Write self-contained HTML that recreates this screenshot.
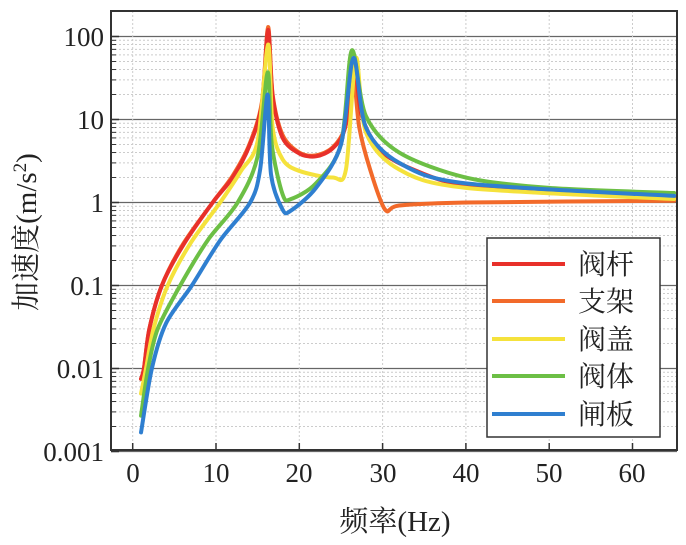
<!DOCTYPE html><html><head><meta charset="utf-8"><style>body{margin:0;background:#fff}svg{display:block}text{font-family:"Liberation Serif","Noto Serif CJK SC",serif;fill:#222}</style></head><body>
<svg id="s" width="686" height="545" xmlns="http://www.w3.org/2000/svg">
<g id="grid"></g>
<g id="curves" fill="none" stroke-width="4" stroke-linejoin="round" stroke-linecap="round"></g>
<rect x="111" y="11" width="566" height="439" fill="none" stroke="#333" stroke-width="2"/>
<g id="ticks"></g>
<g font-size="27" text-anchor="end">
<text x="104" y="46">100</text><text x="104" y="129">10</text><text x="104" y="212">1</text><text x="104" y="295">0.1</text><text x="104" y="378">0.01</text><text x="104" y="461">0.001</text></g>
<g font-size="27" text-anchor="middle">
<text x="133" y="482">0</text><text x="216" y="482">10</text><text x="299" y="482">20</text><text x="383" y="482">30</text><text x="466" y="482">40</text><text x="549" y="482">50</text><text x="632" y="482">60</text></g>
<text x="395" y="531" font-size="29" text-anchor="middle">频率(Hz)</text>
<text transform="translate(36,232) rotate(-90)" font-size="29" text-anchor="middle">加速度(m/s<tspan font-size="19" dy="-10">2</tspan><tspan dy="10">)</tspan></text>
<rect x="487" y="238" width="173" height="199" fill="#fff" stroke="#333" stroke-width="1.5"/>
<g stroke-width="4">
<line x1="492" y1="264" x2="565" y2="264" stroke="#e8302a"/>
<line x1="492" y1="301" x2="565" y2="301" stroke="#f26a2a"/>
<line x1="492" y1="339" x2="565" y2="339" stroke="#f5e23c"/>
<line x1="492" y1="376" x2="565" y2="376" stroke="#6cbf45"/>
<line x1="492" y1="414" x2="565" y2="414" stroke="#2f7fd0"/></g>
<g font-size="28"><text x="578" y="274">阀杆</text><text x="578" y="311">支架</text><text x="578" y="349">阀盖</text><text x="578" y="386">阀体</text><text x="578" y="424">闸板</text></g>
</svg>
<script>
const X=f=>132.7+8.33*f, Y=v=>202.5-83*Math.log10(v);
const g=document.getElementById('grid'),t=document.getElementById('ticks');
let h='',k='';
for(let d=-3;d<=2;d++){for(let m=1;m<10;m++){const v=m*Math.pow(10,d);const y=Y(v);if(y<11)continue;
if(m==1){h+=`<line x1="111" x2="677" y1="${y}" y2="${y}" stroke="#666" stroke-width="1.2"/>`;k+=`<line x1="111" x2="119" y1="${y}" y2="${y}" stroke="#333" stroke-width="1.5"/>`;}
else{h+=`<line x1="111" x2="677" y1="${y}" y2="${y}" stroke="#ccc" stroke-dasharray="2,2"/>`;k+=`<line x1="111" x2="116" y1="${y}" y2="${y}" stroke="#333"/>`;}}}
for(let f=0;f<=60;f+=10){const x=X(f);h+=`<line x1="${x}" x2="${x}" y1="11" y2="450" stroke="#ccc" stroke-dasharray="2,2"/>`;k+=`<line x1="${x}" x2="${x}" y1="450" y2="443" stroke="#333" stroke-width="1.5"/>`;}
g.innerHTML=h;t.innerHTML=k;
const S={
"#f26a2a":[[1,0.0075],[1.35,0.01],[2,0.03],[3.5,0.1],[6,0.31],[9.6,1],[12,2.1],[14,5],[15.5,16],[16.25,130],[16.8,20],[18,6.5],[20,4],[22,3.7],[24,4.6],[25.5,8],[26.5,30],[27.2,8],[28.5,2.5],[30.3,0.82],[32,0.92],[40,1.0],[65,1.05]],
"#e8302a":[[1,0.0075],[1.35,0.01],[2,0.03],[3.5,0.1],[6,0.3],[9.6,1],[12,2],[14,4.8],[15.5,15],[16.25,120],[16.8,19],[18,6],[20,3.9],[22,3.6],[24,4.5],[25.5,8],[26.6,48],[27.5,11],[30,4],[35,2.2],[40,1.6],[50,1.3],[65,1.15]],
"#f5e23c":[[1,0.005],[1.6,0.01],[2.5,0.03],[4.2,0.1],[7,0.33],[10.5,1],[13,2.4],[15,5.5],[16.25,80],[16.8,8],[18,3.3],[20,2.4],[24,2.0],[25.6,2.5],[26.8,55],[28,7],[32,2.5],[40,1.5],[65,1.1]],
"#6cbf45":[[1,0.0027],[1.85,0.01],[3,0.03],[5.7,0.1],[9,0.35],[12.6,1],[15,3.6],[16.2,37],[16.7,5],[18,1.25],[19,1.1],[22,1.7],[25,5],[26.3,68],[28,11],[32,4],[40,2],[50,1.5],[65,1.3]],
"#2f7fd0":[[1,0.0017],[2.3,0.01],[4,0.035],[7.1,0.1],[10.5,0.35],[14.1,1],[15.3,2.5],[16.2,20],[16.6,2.2],[18,0.82],[19,0.8],[22,1.5],[25,5],[26.5,55],[28,8],[32,3],[40,1.7],[65,1.2]]};
let c='';
for(const col in S){const p=S[col].map(a=>[X(a[0]),Y(a[1])]);let d=`M${p[0]}`;
for(let i=0;i<p.length-1;i++){const p0=p[i-1]||p[i],p1=p[i],p2=p[i+1],p3=p[i+2]||p2;const s=0.15;
d+=`C${p1[0]+(p2[0]-p0[0])*s},${p1[1]+(p2[1]-p0[1])*s} ${p2[0]-(p3[0]-p1[0])*s},${p2[1]-(p3[1]-p1[1])*s} ${p2[0]},${p2[1]}`;}
c+=`<path d="${d}" stroke="${col}"/>`;}
document.getElementById('curves').innerHTML=c;
</script></body></html>
